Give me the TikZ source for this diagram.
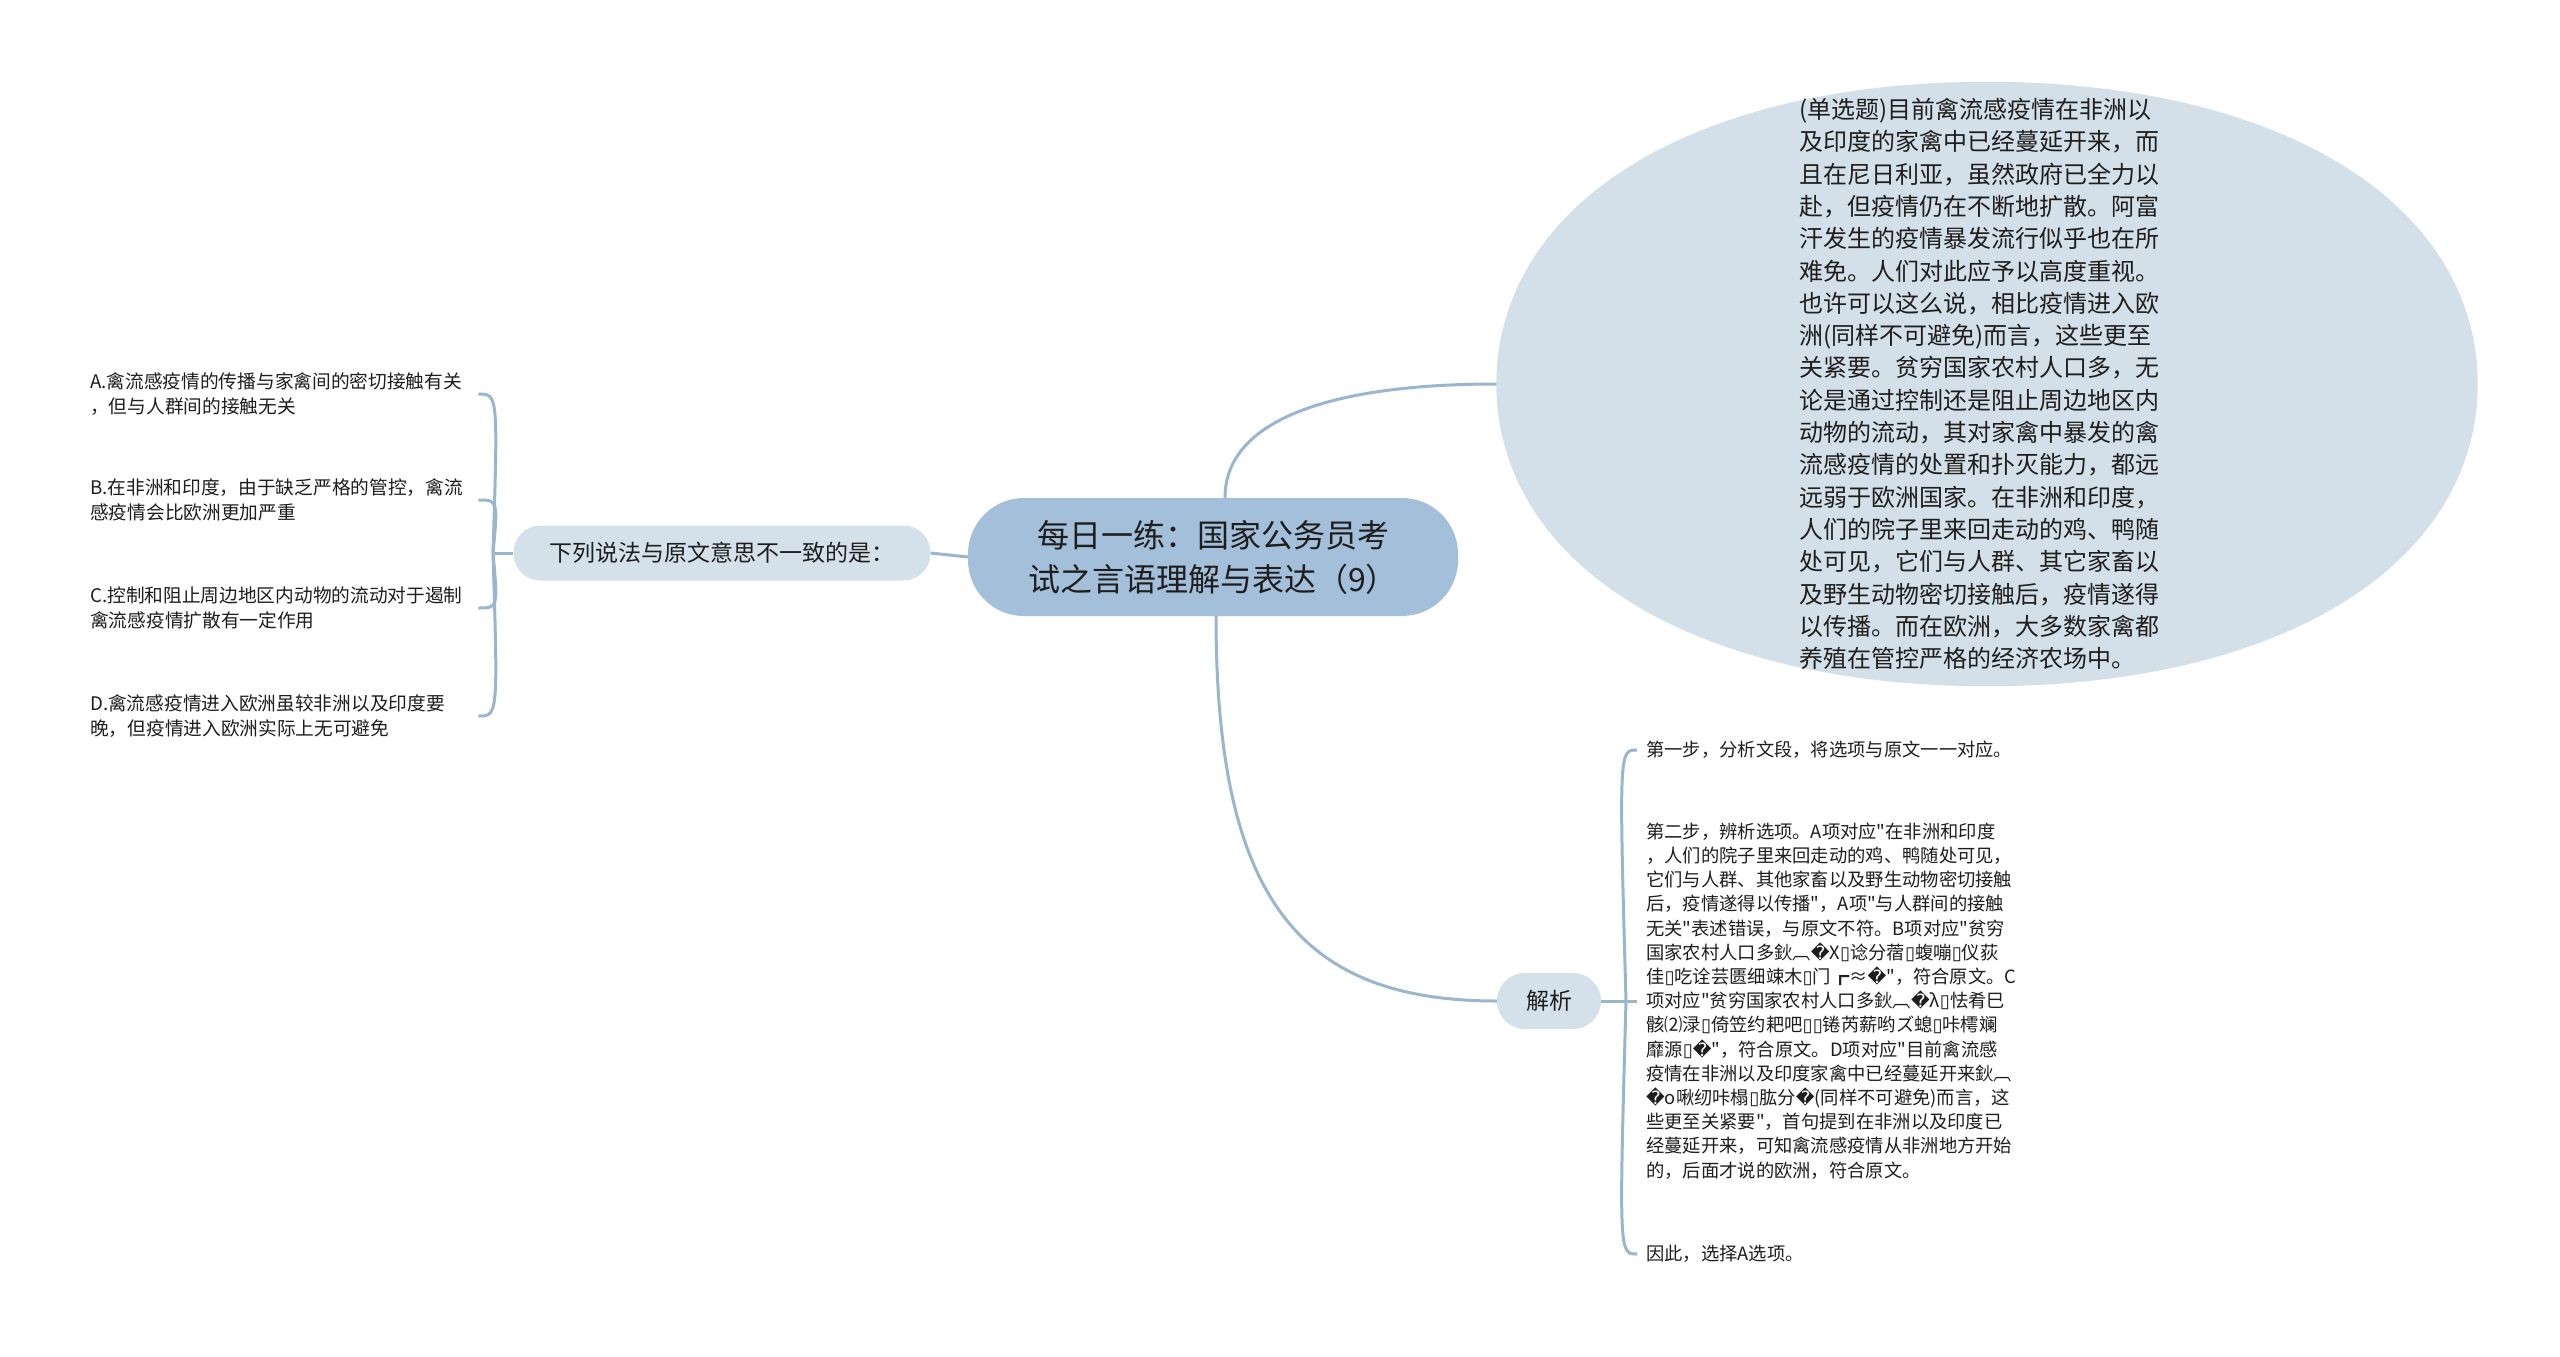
\documentclass[tikz,border=0pt]{standalone}
\usepackage{fontspec}
\setmainfont{Noto Sans CJK SC}[Ligatures=TeXOff]
\newfontfamily\djv{DejaVu Sans}
\newcommand\qmk{{\djv\char"FFFD}}
\newcommand\tfu{{\djv\char"25AF}}
\usetikzlibrary{shapes.geometric}
\definecolor{cfill}{HTML}{A3BFD9}
\definecolor{sfill}{HTML}{D4E1EA}
\definecolor{efill}{HTML}{D3E0E9}
\definecolor{linec}{HTML}{9AB6CF}
\definecolor{txtc}{HTML}{1E1E1E}
\tikzset{
  conn/.style={draw=linec, line width=3pt},
  central/.style={fill=cfill, rounded corners=56pt, minimum width=490pt, minimum height=118pt,
    inner sep=0pt, align=center, text=txtc, font=\fontsize{32}{44}\selectfont},
  subnode/.style={fill=sfill, rounded corners=27pt, minimum height=55pt, inner sep=0pt,
    text=txtc, font=\fontsize{23}{28}\selectfont},
  bigell/.style={ellipse, minimum width=981pt, minimum height=604pt, inner sep=0pt},
  elltext/.style={text=txtc, align=left, inner sep=0pt, font=\fontsize{24}{32.3}\selectfont},
  optnode/.style={text=txtc, align=left, anchor=west, text width=382pt, inner xsep=6pt, inner ysep=0pt,
    font=\fontsize{18.7}{24.5}\selectfont},
  expnode/.style={text=txtc, align=left, anchor=west, inner xsep=9pt, inner ysep=0pt,
    font=\fontsize{18.3}{24.2}\selectfont},
}
\begin{document}
\begin{tikzpicture}[x=1pt,y=-1pt]
\fill[white] (0,0) rectangle (2560,1357);
\useasboundingbox (0,0) rectangle (2560,1357);

% question bubble (slightly fuller than a true ellipse)
\node[bigell] (e) at (1987,384) {};
\fill[efill] (e.west) .. controls (1497,203) and (1693,82) .. (e.north)
  .. controls (2281,82) and (2477,203) .. (e.east)
  .. controls (2477,565) and (2281,686) .. (e.south)
  .. controls (1693,686) and (1497,565) .. (e.west) -- cycle;
\node[elltext] (et) at (1979,384) {(单选题)目前禽流感疫情在非洲以\\及印度的家禽中已经蔓延开来，而\\且在尼日利亚，虽然政府已全力以\\赴，但疫情仍在不断地扩散。阿富\\汗发生的疫情暴发流行似乎也在所\\难免。人们对此应予以高度重视。\\也许可以这么说，相比疫情进入欧\\洲(同样不可避免)而言，这些更至\\关紧要。贫穷国家农村人口多，无\\论是通过控制还是阻止周边地区内\\动物的流动，其对家禽中暴发的禽\\流感疫情的处置和扑灭能力，都远\\远弱于欧洲国家。在非洲和印度，\\人们的院子里来回走动的鸡、鸭随\\处可见，它们与人群、其它家畜以\\及野生动物密切接触后，疫情遂得\\以传播。而在欧洲，大多数家禽都\\养殖在管控严格的经济农场中。};

\node[central] (c) at (1213,557) {每日一练：国家公务员考\\试之言语理解与表达（9）};
\node[subnode, minimum width=417pt] (q) at (722,553) {下列说法与原文意思不一致的是：};
\node[subnode, minimum width=104pt, minimum height=56pt, rounded corners=28pt] (j) at (1549,1001) {解析};

\node[optnode] (a) at (84,394) {A.禽流感疫情的传播与家禽间的密切接触有关\\，但与人群间的接触无关};
\node[optnode] (b) at (84,500) {B.在非洲和印度，由于缺乏严格的管控，禽流\\感疫情会比欧洲更加严重};
\node[optnode] (cc) at (84,608) {C.控制和阻止周边地区内动物的流动对于遏制\\禽流感疫情扩散有一定作用};
\node[optnode] (d) at (84,716) {D.禽流感疫情进入欧洲虽较非洲以及印度要\\晚，但疫情进入欧洲实际上无可避免};

\node[expnode] (s1) at (1637,750) {第一步，分析文段，将选项与原文一一对应。};
\node[expnode] (s2) at (1637,1001) {第二步，辨析选项。A项对应"在非洲和印度\\，人们的院子里来回走动的鸡、鸭随处可见，\\它们与人群、其他家畜以及野生动物密切接触\\后，疫情遂得以传播"，A项"与人群间的接触\\无关"表述错误，与原文不符。B项对应"贫穷\\国家农村人口多鈥︹\qmk X\tfu 谂分蓿\tfu 蝮嘣\tfu 仪荻\\佳\tfu 吃诠芸匮细竦木\tfu 门┏≈\qmk"，符合原文。C\\项对应"贫穷国家农村人口多鈥︹\qmk λ\tfu 怯肴巳\\骸⑵渌\tfu 倚笠约耙吧\tfu\tfu 锩芮薪哟ズ螅\tfu 咔樗斓\\靡源\tfu\qmk"，符合原文。D项对应"目前禽流感\\疫情在非洲以及印度家禽中已经蔓延开来鈥︹\\\qmk o啾纫咔榻\tfu 肱分\qmk(同样不可避免)而言，这\\些更至关紧要"，首句提到在非洲以及印度已\\经蔓延开来，可知禽流感疫情从非洲地方开始\\的，后面才说的欧洲，符合原文。};
\node[expnode] (s3) at (1637,1254) {因此，选择A选项。};

% connectors
\coordinate (lb) at (493,553);
\coordinate (jb) at (1626,1001);

\draw[conn] (c.west) -- (q.east);
\draw[conn] ([xshift=12pt]c.north) .. controls (1225,420) and (1330,384) .. (e.west);
\draw[conn] ([xshift=3pt]c.south) .. controls (1216,900) and (1300,1001) .. (j.west);

\draw[conn] (q.west) -- (lb);
\draw[conn] (lb) .. controls (498,394) and (498,394) .. (a.east);
\draw[conn] (lb) .. controls (498,500) and (498,500) .. (b.east);
\draw[conn] (lb) .. controls (498,608) and (498,608) .. (cc.east);
\draw[conn] (lb) .. controls (498,716) and (498,716) .. (d.east);

\draw[conn] (j.east) -- (jb);
\draw[conn] (jb) .. controls (1619,750) and (1619,750) .. (s1.west);
\draw[conn] (jb) -- (s2.west);
\draw[conn] (jb) .. controls (1619,1254) and (1619,1254) .. (s3.west);
\end{tikzpicture}
\end{document}
